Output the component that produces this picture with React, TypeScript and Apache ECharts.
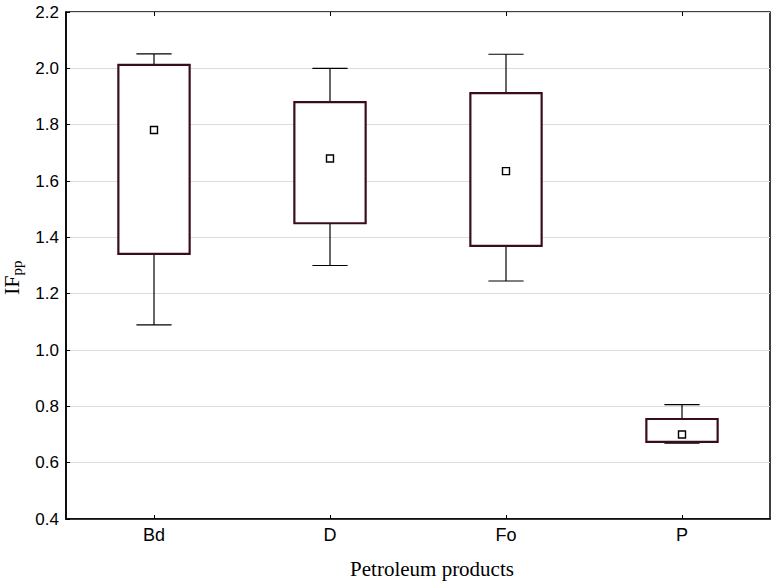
import React, { useEffect, useRef } from "react";
import * as echarts from "echarts";

const categories = ["Bd", "D", "Fo", "P"];
const whiskerLow = [1.089, 1.30, 1.245, 0.669];
const boxLow = [1.341, 1.45, 1.37, 0.674];
const boxHigh = [2.012, 1.88, 1.912, 0.755];
const whiskerHigh = [2.051, 2.0, 2.05, 0.806];
const means = [1.781, 1.68, 1.635, 0.70];
const yTicks = [0.4, 0.6, 0.8, 1.0, 1.2, 1.4, 1.6, 1.8, 2.0, 2.2];

export default function App() {
  const ref = useRef<HTMLDivElement>(null);
  useEffect(() => {
    const chart = echarts.init(ref.current!, null, { renderer: "svg" });
    const data = categories.map((c, i) => [i, whiskerLow[i], boxLow[i], boxHigh[i], whiskerHigh[i], means[i]]);
    chart.setOption({
      animation: false,
      backgroundColor: "#fff",
      grid: { left: 66, right: 2, top: 12, bottom: 63, show: true, borderColor: "#000", borderWidth: 1.5 },
      xAxis: [
        {
          type: "category",
          data: categories,
          boundaryGap: true,
          axisLine: { show: true, lineStyle: { color: "#000", width: 1.5 } },
          axisTick: { show: true, inside: true, alignWithLabel: true, length: 4, lineStyle: { color: "#000" } },
          axisLabel: { color: "#000", fontFamily: "Liberation Sans", fontSize: 18, margin: 7 },
          splitLine: { show: false },
        },
        {
          type: "category",
          position: "top",
          data: categories,
          boundaryGap: true,
          axisLine: { show: false },
          axisTick: { show: true, inside: true, alignWithLabel: true, length: 4, lineStyle: { color: "#000" } },
          axisLabel: { show: false },
        },
      ],
      yAxis: {
        type: "value",
        min: 0.4,
        max: 2.2,
        interval: 0.2,
        axisLine: { show: true, lineStyle: { color: "#000", width: 1.5 } },
        axisTick: { show: true, inside: true, length: 4, lineStyle: { color: "#000" } },
        axisLabel: {
          color: "#000",
          fontFamily: "Liberation Sans",
          fontSize: 17,
          margin: 7,
          formatter: (v: number) => {
            const t = yTicks.find((x) => Math.abs(x - v) < 1e-6);
            return (t !== undefined ? t : v).toFixed(1);
          },
        },
        splitLine: { show: true, lineStyle: { color: "#dcdcdc", width: 1 } },
      },
      graphic: [
        {
          type: "text",
          x: 432,
          y: 569,
          style: {
            text: "Petroleum products",
            font: '21px "Liberation Serif"',
            fill: "#000",
            align: "center",
            verticalAlign: "middle",
          },
        },
        {
          type: "text",
          x: -2,
          y: 295,
          rotation: Math.PI / 2,
          style: {
            text: "{a|IF}{b|pp}",
            fill: "#000",
            rich: {
              a: { fontFamily: "Liberation Serif", fontSize: 22, fill: "#000" },
              b: { fontFamily: "Liberation Serif", fontSize: 15, fill: "#000", padding: [11, 0, 0, 0] },
            },
          },
        },
      ],
      series: [
        {
          type: "custom",
          data,
          renderItem: (params: any, api: any) => {
            const idx = api.value(0);
            const wl = api.coord([idx, api.value(1)]);
            const bl = api.coord([idx, api.value(2)]);
            const bh = api.coord([idx, api.value(3)]);
            const wh = api.coord([idx, api.value(4)]);
            const mn = api.coord([idx, api.value(5)]);
            const band = api.size([1, 0])[0];
            const bw = band * 0.405;
            const cw = band * 0.2;
            const x = wl[0];
            const lineStyle = { stroke: "#000", lineWidth: 1.2 };
            return {
              type: "group",
              children: [
                { type: "line", shape: { x1: x, y1: wh[1], x2: x, y2: bh[1] }, style: lineStyle },
                { type: "line", shape: { x1: x, y1: bl[1], x2: x, y2: wl[1] }, style: lineStyle },
                { type: "line", shape: { x1: x - cw / 2, y1: wh[1], x2: x + cw / 2, y2: wh[1] }, style: lineStyle },
                { type: "line", shape: { x1: x - cw / 2, y1: wl[1], x2: x + cw / 2, y2: wl[1] }, style: lineStyle },
                {
                  type: "rect",
                  shape: { x: x - bw / 2, y: bh[1], width: bw, height: bl[1] - bh[1] },
                  style: { fill: "#fff", stroke: "#3a0d1e", lineWidth: 2.2 },
                },
                {
                  type: "rect",
                  shape: { x: mn[0] - 3.5, y: mn[1] - 3.5, width: 7, height: 7 },
                  style: { fill: "#fff", stroke: "#000", lineWidth: 1.4 },
                },
              ],
            };
          },
        },
      ],
    });
    return () => chart.dispose();
  }, []);
  return <div ref={ref} style={{ width: 772, height: 582, position: "absolute", left: 0, top: 0 }} />;
}
